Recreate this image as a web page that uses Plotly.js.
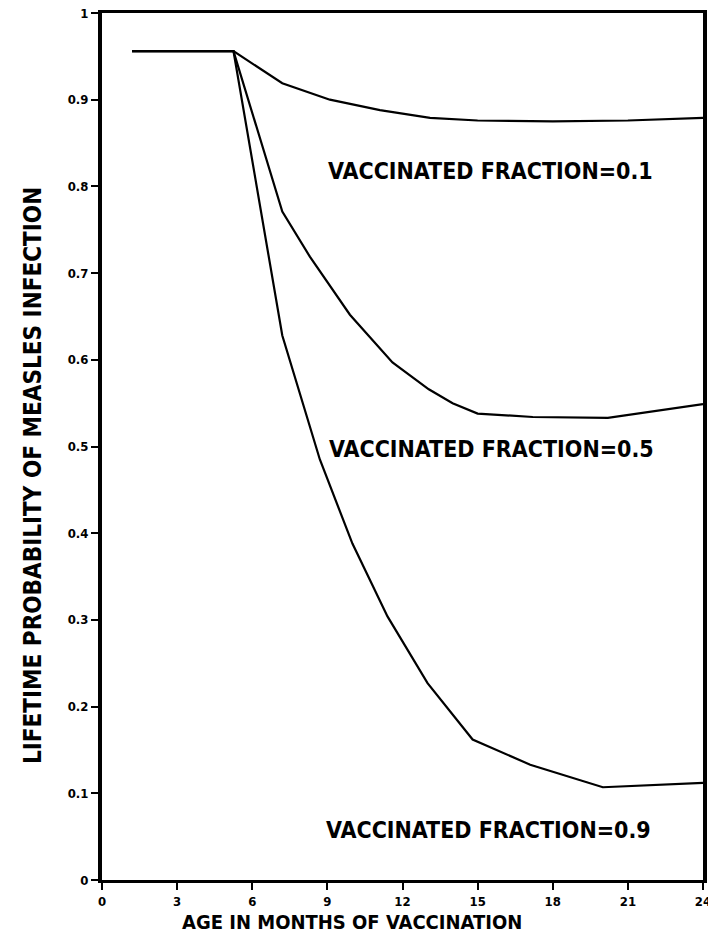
<!DOCTYPE html>
<html>
<head>
<meta charset="utf-8">
<script src="https://cdn.plot.ly/plotly-3.0.1.min.js"></script>
<style>html,body{margin:0;padding:0;background:#fff;}#chart{width:708px;height:944px;}</style>
</head>
<body>
<div id="chart"></div>
<script>
// Age in months of vaccination (x) and lifetime probability of measles infection (y)
const ageFrac01 = [1.2, 5.25, 7.2, 9.1, 11.1, 13.1, 15.0, 18.0, 21.0, 24.0];
const probFrac01 = [0.956, 0.956, 0.919, 0.900, 0.888, 0.879, 0.876, 0.875, 0.876, 0.879];

const ageFrac05 = [1.2, 5.25, 7.2, 8.3, 9.9, 11.6, 13.05, 14.0, 15.0, 17.2, 20.2, 24.0];
const probFrac05 = [0.956, 0.956, 0.771, 0.719, 0.652, 0.597, 0.566, 0.550, 0.538, 0.534, 0.533, 0.549];

const ageFrac09 = [1.2, 5.25, 7.2, 8.7, 10.0, 11.4, 13.0, 14.8, 17.1, 20.0, 24.0];
const probFrac09 = [0.956, 0.956, 0.628, 0.485, 0.388, 0.304, 0.227, 0.162, 0.133, 0.107, 0.112];

const curveLabels = ["VACCINATED FRACTION=0.1", "VACCINATED FRACTION=0.5", "VACCINATED FRACTION=0.9"];
const labelX = [15.5, 15.55, 15.45];
const labelY = [0.818, 0.497, 0.058];
const labelSize = [23, 23, 23];

const xTickVals = [0, 3, 6, 9, 12, 15, 18, 21, 24];
const xTickText = ["0", "3", "6", "9", "12", "15", "18", "21", "24"];
const yTickVals = [0, 0.1, 0.2, 0.3, 0.4, 0.5, 0.6, 0.7, 0.8, 0.9, 1];
const yTickText = ["0", "0.1", "0.2", "0.3", "0.4", "0.5", "0.6", "0.7", "0.8", "0.9", "1"];

const xTitle = "AGE IN MONTHS OF VACCINATION";
const yTitle = "LIFETIME PROBABILITY OF MEASLES INFECTION";

const FONT = "DejaVu Sans Condensed, Liberation Sans Narrow, Arial Narrow, sans-serif";
const lineStyle = {color: "#000", width: 2.2};

const traces = [
  {x: ageFrac01, y: probFrac01, mode: "lines", line: lineStyle, hoverinfo: "skip"},
  {x: ageFrac05, y: probFrac05, mode: "lines", line: lineStyle, hoverinfo: "skip"},
  {x: ageFrac09, y: probFrac09, mode: "lines", line: lineStyle, hoverinfo: "skip"}
];

const annotations = curveLabels.map((t, i) => ({
  x: labelX[i], y: labelY[i], xref: "x", yref: "y", text: t, showarrow: false,
  font: {family: FONT, size: labelSize[i], color: "#000", weight: "bold"},
  xanchor: "center", yanchor: "middle"
}));
annotations.push({
  x: 0.416, y: -0.032, xref: "paper", yref: "paper", text: xTitle, showarrow: false,
  font: {family: FONT, size: 20, color: "#000", weight: "bold"},
  xanchor: "center", yanchor: "top"
});
annotations.push({
  x: -0.115, y: 0.467, xref: "paper", yref: "paper", text: yTitle, showarrow: false,
  textangle: -90,
  font: {family: FONT, size: 24, color: "#000", weight: "bold"},
  xanchor: "center", yanchor: "middle"
});

const layout = {
  width: 708, height: 944,
  margin: {l: 102, r: 5, t: 13, b: 64},
  paper_bgcolor: "#fff", plot_bgcolor: "#fff",
  showlegend: false,
  xaxis: {
    range: [0, 24], tickvals: xTickVals, ticktext: xTickText,
    showgrid: false, zeroline: false, showline: true, mirror: true,
    linecolor: "#000", linewidth: 3, ticks: "outside", ticklen: 7, tickwidth: 2, tickcolor: "#000",
    tickfont: {family: FONT, size: 13, color: "#000", weight: "bold"},
    ticklabeloverflow: "allow",
    automargin: false, fixedrange: true
  },
  yaxis: {
    range: [0, 1], tickvals: yTickVals, ticktext: yTickText,
    showgrid: false, zeroline: false, showline: true, mirror: true,
    linecolor: "#000", linewidth: 4, ticks: "outside", ticklen: 7, tickwidth: 2, tickcolor: "#000",
    tickfont: {family: FONT, size: 13, color: "#000", weight: "bold"},
    automargin: false, fixedrange: true
  },
  annotations: annotations
};

Plotly.newPlot("chart", traces, layout, {staticPlot: true, displayModeBar: false});
</script>
</body>
</html>
